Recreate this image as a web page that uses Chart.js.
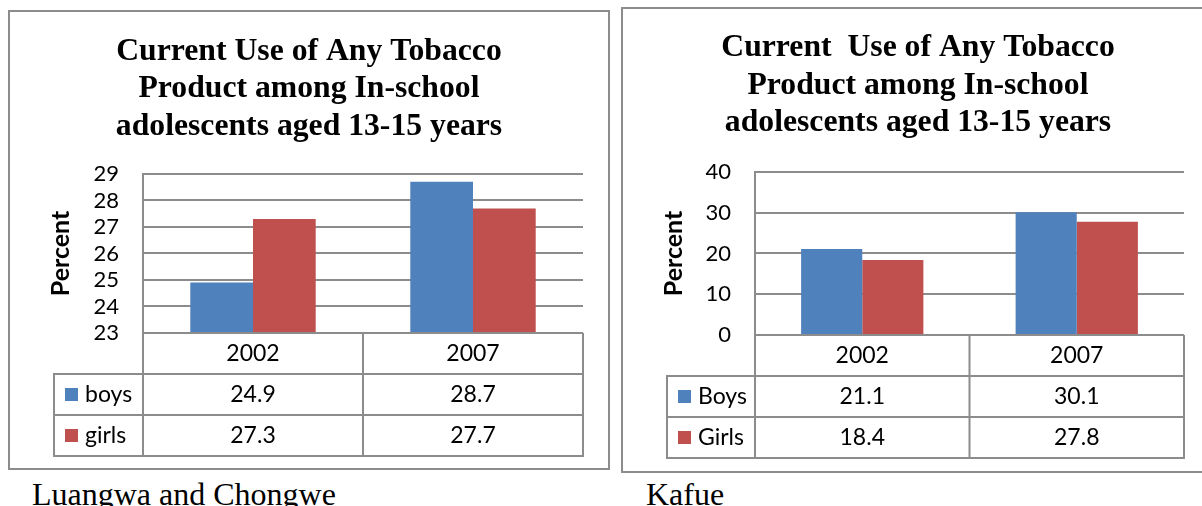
<!DOCTYPE html>
<html>
<head>
<meta charset="utf-8">
<script src="https://cdn.jsdelivr.net/npm/chart.js@4/dist/chart.umd.min.js"></script>
<style>
html,body{margin:0;padding:0;background:#fff;overflow:hidden}
body{width:1202px;height:506px;position:relative}
.panel{position:absolute;border:2px solid #8c8c8c;background:#fff}
.panel canvas{display:block}
.cap{position:absolute;font-family:"Liberation Serif","Times New Roman",serif;font-size:32px;line-height:32px;color:#000;white-space:nowrap}
</style>
</head>
<body>
<div class="panel" style="left:8px;top:10px;width:598px;height:456px"><canvas id="lc" width="598" height="456"></canvas></div>
<div class="panel" style="left:621px;top:7px;width:590px;height:462px"><canvas id="kf" width="590" height="462"></canvas></div>
<div class="cap" style="left:32px;top:478px">Luangwa and Chongwe</div>
<div class="cap" style="left:646px;top:478px">Kafue</div>
<script>
// data
const years = ['2002', '2007'];
const lcBoys = [24.9, 28.7];
const lcGirls = [27.3, 27.7];
const lcTicks = [23, 24, 25, 26, 27, 28, 29];
const kfBoys = [21.1, 30.1];
const kfGirls = [18.4, 27.8];
const kfTicks = [0, 10, 20, 30, 40];

const BLUE = '#4f81bd', RED = '#c0504d', GRID = '#8c8c8c';
const SANS = 'Lato';

// data table under the plot (category row + one row per series)
const dataTable = {
  id: 'dataTable',
  afterDraw(chart, args, opts) {
    const ctx = chart.ctx, a = chart.chartArea, xs = chart.scales.x;
    const rowH = opts.rowH, legL = a.left - opts.legendW;
    const r0 = a.bottom, r3 = r0 + rowH * 3;
    const n = chart.data.labels.length;
    const colW = (a.right - a.left) / n;
    ctx.save();
    ctx.strokeStyle = GRID; ctx.lineWidth = 2;
    ctx.beginPath();
    ctx.moveTo(a.left, r0); ctx.lineTo(a.right, r0);
    for (let k = 1; k <= 3; k++) { ctx.moveTo(legL - 1, r0 + rowH * k); ctx.lineTo(a.right + 1, r0 + rowH * k); }
    for (let i = 0; i <= n; i++) { const xx = a.left + i * colW; ctx.moveTo(xx, r0); ctx.lineTo(xx, r3); }
    ctx.moveTo(legL, r0 + rowH); ctx.lineTo(legL, r3);
    ctx.stroke();

    ctx.font = '23px "' + SANS + '"';
    ctx.textBaseline = 'middle';
    ctx.fillStyle = '#000'; ctx.textAlign = 'center';
    chart.data.labels.forEach((lab, i) => ctx.fillText(lab, xs.getPixelForValue(i), r0 + rowH / 2));
    chart.data.datasets.forEach((ds, j) => {
      const yc = r0 + rowH * (j + 1) + rowH / 2;
      ctx.fillStyle = '#000'; ctx.textAlign = 'center';
      ds.data.forEach((v, i) => ctx.fillText(v.toFixed(1), xs.getPixelForValue(i), yc));
      ctx.fillStyle = ds.backgroundColor;
      ctx.fillRect(legL + 11, yc - 6.5, 13, 13);
      ctx.fillStyle = '#000'; ctx.textAlign = 'left';
      ctx.fillText(ds.label, legL + 31, yc);
    });
    ctx.restore();
  }
};

function makeChart(id, titleLines, boys, girls, names, ticks, L) {
  return new Chart(document.getElementById(id), {
    type: 'bar',
    data: {
      labels: years,
      datasets: [
        {label: names[0], data: boys, backgroundColor: BLUE, borderWidth: 0},
        {label: names[1], data: girls, backgroundColor: RED, borderWidth: 0}
      ]
    },
    options: {
      responsive: false,
      animation: false,
      categoryPercentage: 0.57,
      barPercentage: 1,
      layout: {padding: 0},
      plugins: {
        legend: {display: false},
        tooltip: {enabled: false},
        title: {
          display: true, text: titleLines, color: '#000',
          font: {family: 'Liberation Serif', size: 31.7, weight: 'bold', lineHeight: 1.18},
          padding: {top: L.titleTop, bottom: L.titleBottom}
        },
        dataTable: {rowH: 41, legendW: L.legendW}
      },
      scales: {
        x: {
          ticks: {display: false},
          grid: {display: false},
          border: {display: false},
          afterFit(s) { s.height = L.tableH; }
        },
        y: {
          min: ticks[0], max: ticks[ticks.length - 1],
          ticks: {stepSize: ticks[1] - ticks[0], autoSkip: false, color: '#000', font: {family: SANS, size: 22}, padding: 24},
          grid: {color: GRID, lineWidth: 2, drawTicks: false},
          border: {display: true, color: GRID, width: 2},
          title: {
            display: true, text: 'Percent', color: '#000',
            font: {family: SANS, size: 25, weight: 'bold'},
            padding: {top: L.yTitle, bottom: 0}
          },
          afterFit(s) { s.width = L.axisW; }
        },
        // empty strip on the right so the title stays centred on the panel
        gap: {
          type: 'linear', position: 'right', display: true,
          ticks: {display: false}, grid: {display: false}, border: {display: false},
          afterFit(s) { s.width = L.right; }
        }
      }
    },
    plugins: [dataTable]
  });
}

makeChart('lc',
  ['Current Use of Any Tobacco', 'Product among In-school', 'adolescents aged 13-15 years'],
  lcBoys, lcGirls, ['boys', 'girls'], lcTicks,
  {right: 25, titleTop: 21, titleBottom: 28.7, tableH: 135, axisW: 133, legendW: 89, yTitle: 36});

makeChart('kf',
  ['Current  Use of Any Tobacco', 'Product among In-school', 'adolescents aged 13-15 years'],
  kfBoys, kfGirls, ['Boys', 'Girls'], kfTicks,
  {right: 29, titleTop: 20.5, titleBottom: 30.2, tableH: 136, axisW: 132, legendW: 88, yTitle: 35.5});
</script>
</body>
</html>
